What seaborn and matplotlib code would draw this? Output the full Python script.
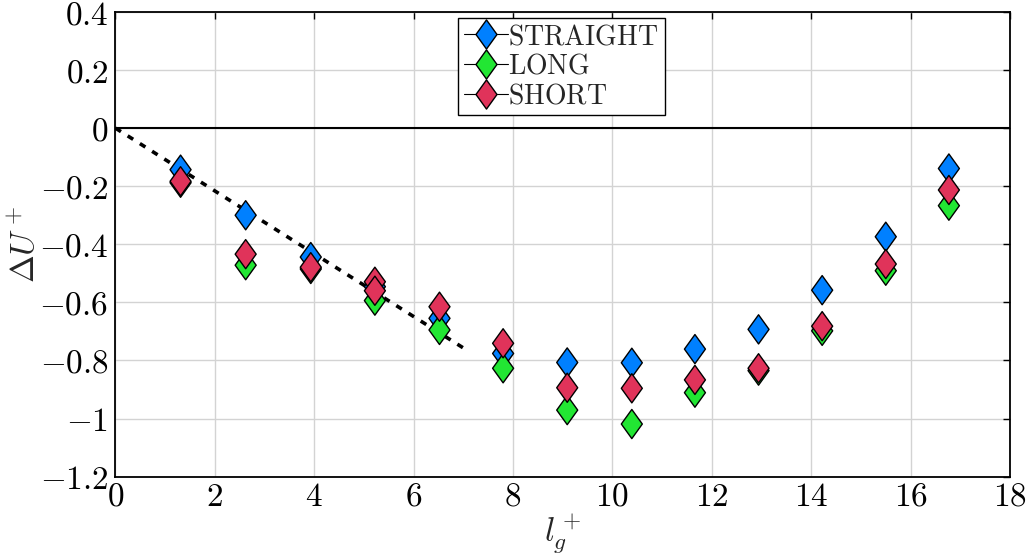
import numpy as np
import pandas as pd
import matplotlib
matplotlib.use("Agg")
import matplotlib.pyplot as plt
import seaborn as sns
from matplotlib.path import Path
from matplotlib.lines import Line2D
from matplotlib.ticker import FuncFormatter

# ---- data ----
x_vals = [1.31, 2.62, 3.93, 5.22, 6.52, 7.80, 9.09, 10.39, 11.66, 12.94, 14.22, 15.50, 16.77]
straight = [-0.143, -0.300, -0.444, -0.546, -0.655, -0.776, -0.807, -0.808, -0.761, -0.693, -0.558, -0.374, -0.139]
long_ = [-0.188, -0.472, -0.485, -0.594, -0.695, -0.827, -0.971, -1.019, -0.911, -0.835, -0.698, -0.491, -0.267]
short = [-0.183, -0.434, -0.479, -0.529, -0.615, -0.741, -0.894, -0.896, -0.867, -0.827, -0.682, -0.468, -0.213]
short_extra_x = [5.22]
short_extra_y = [-0.560]
series_names = ["STRAIGHT", "LONG", "SHORT"]
series_colors = ["#0080ff", "#22e633", "#e0335a"]
fit_x = [0.0, 7.0]
fit_y = [0.0, -0.757]
x_ticks = [0, 2, 4, 6, 8, 10, 12, 14, 16, 18]
y_ticks = [0.4, 0.2, 0, -0.2, -0.4, -0.6, -0.8, -1, -1.2]

df = pd.concat([
    pd.DataFrame({"x": x_vals, "y": straight, "series": "STRAIGHT"}),
    pd.DataFrame({"x": x_vals, "y": long_, "series": "LONG"}),
    pd.DataFrame({"x": x_vals + short_extra_x, "y": short + short_extra_y, "series": "SHORT"}),
], ignore_index=True)

sns.set_style("white")
plt.rcParams["mathtext.fontset"] = "cm"
plt.rcParams["font.family"] = ["DejaVu Serif"]

fig = plt.figure(figsize=(10.3, 5.58), dpi=100)
ax = fig.add_axes([0.1121, 0.1459, 0.9806 - 0.1121, 0.9785 - 0.1459])

diamond = Path([(0, 1), (0.72, 0), (0, -1), (-0.72, 0), (0, 1)],
               [Path.MOVETO, Path.LINETO, Path.LINETO, Path.LINETO, Path.CLOSEPOLY])

ax.axhline(0, color="black", lw=1.5, zorder=1)
ax.plot(fit_x, fit_y, color="black", lw=2.6, linestyle=(0, (1.8, 2.2)), zorder=2)

sns.scatterplot(data=df, x="x", y="y", hue="series", hue_order=series_names,
                palette=dict(zip(series_names, series_colors)), marker=diamond,
                s=21 ** 2, edgecolor="black", linewidth=1.0, legend=False, ax=ax, zorder=3)

ax.set_xlim(0, 18)
ax.set_ylim(-1.2, 0.4)
ax.set_xticks(x_ticks)
ax.set_yticks(y_ticks)
fmt = FuncFormatter(lambda v, p: "$%g$" % round(v, 2))
ax.xaxis.set_major_formatter(fmt)
ax.yaxis.set_major_formatter(fmt)
ax.tick_params(direction="in", length=5, width=1, labelsize=24, top=True, right=True,
               colors="black")
ax.tick_params(axis="x", pad=3)
ax.tick_params(axis="y", pad=5)
ax.grid(True, color="#d3d3d3", lw=1)
ax.set_axisbelow(True)
for s in ax.spines.values():
    s.set_color("black")
    s.set_linewidth(1.3)

ax.set_xlabel(r"$l_g^+$", fontsize=24, labelpad=0)
ax.set_ylabel(r"$\Delta U^+$", fontsize=24, labelpad=-2)

handles = [Line2D([0], [0], color="black", lw=0.8, marker=diamond, markersize=21,
                  markerfacecolor=c, markeredgecolor="black", markeredgewidth=1.0)
           for c in series_colors]
leg = ax.legend(handles, [r"$\mathrm{%s}$" % n for n in series_names], loc="upper center",
                bbox_to_anchor=(0.4986, 0.988), fontsize=20, frameon=True, fancybox=False,
                handlelength=1.6, handletextpad=0.0, labelspacing=0.1, borderpad=0.2,
                borderaxespad=0.0, edgecolor="black", framealpha=1)
leg.get_frame().set_linewidth(1.0)

fig.savefig("out.png", dpi=100)
